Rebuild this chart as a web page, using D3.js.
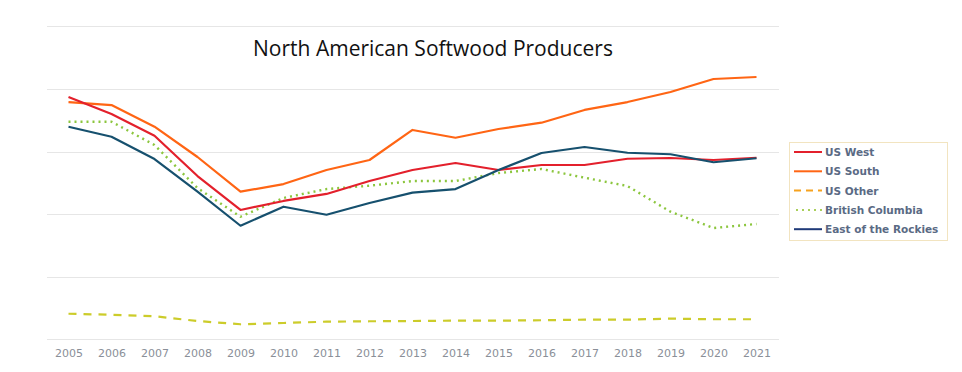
<!DOCTYPE html>
<html>
<head>
<meta charset="utf-8">
<script src="https://cdn.jsdelivr.net/npm/d3@7"></script>
<style>
  body { margin: 0; background: #fff; }
  svg { display: block; }
</style>
</head>
<body>
<div id="chart"></div>
<script>
const years = ["2005","2006","2007","2008","2009","2010","2011","2012","2013",
  "2014","2015","2016","2017","2018","2019","2020","2021"];

const usWest = [19.35, 17.99, 16.26, 13.04, 10.33, 11.05, 11.61, 12.64, 13.52,
  14.08, 13.52, 13.92, 13.92, 14.42, 14.48, 14.32, 14.50];
const usSouth = [18.95, 18.71, 16.98, 14.56, 11.79, 12.40, 13.52, 14.32, 16.72,
  16.10, 16.80, 17.30, 18.32, 18.95, 19.75, 20.79, 20.95];
const usOther = [2.04, 1.96, 1.84, 1.46, 1.20, 1.30, 1.41, 1.44, 1.46,
  1.49, 1.49, 1.52, 1.57, 1.57, 1.65, 1.60, 1.60];
const britishColumbia = [17.38, 17.38, 15.52, 12.08, 9.79, 11.29, 12.00, 12.27, 12.64,
  12.64, 13.28, 13.60, 12.91, 12.24, 10.19, 8.89, 9.21];
const eastRockies = [16.98, 16.18, 14.40, 11.79, 9.07, 10.59, 9.95, 10.89, 11.71,
  12.00, 13.52, 14.88, 15.36, 14.90, 14.78, 14.14, 14.46];

const yTicks = [0, 5, 10, 15, 20, 25];

const series = [
  { name: "US West", values: usWest, color: "#e3202c", legendColor: "#e3202c", dash: null },
  { name: "US South", values: usSouth, color: "#ff6514", legendColor: "#ff6514", dash: null },
  { name: "US Other", values: usOther, color: "#cccc2a", legendColor: "#f6a21e", dash: "8,7" },
  { name: "British Columbia", values: britishColumbia, color: "#8cc63e", legendColor: "#a9cf5a", dash: "2,4" },
  { name: "East of the Rockies", values: eastRockies, color: "#16506e", legendColor: "#1f3a78", dash: null }
];
// draw order (last on top)
const drawOrder = ["US Other", "British Columbia", "US South", "US West", "East of the Rockies"];

const width = 962, height = 372;
const svg = d3.select("#chart").append("svg")
  .attr("width", width)
  .attr("height", height);

const x = d3.scalePoint()
  .domain(years)
  .range([47, 778])
  .padding(0.5);

const y = d3.scaleLinear()
  .domain([0, 25])
  .range([339.3, 26.3]);

// gridlines
svg.append("g")
  .selectAll("line")
  .data(yTicks)
  .join("line")
  .attr("x1", 47)
  .attr("x2", 779)
  .attr("y1", d => Math.round(y(d)) + 0.5)
  .attr("y2", d => Math.round(y(d)) + 0.5)
  .attr("stroke", "#e6e6e6")
  .attr("stroke-width", 1.2);

// x axis labels
const xAxis = svg.append("g")
  .attr("transform", "translate(0,345)")
  .call(d3.axisBottom(x).tickSize(0).tickPadding(4));
xAxis.select(".domain").remove();
xAxis.selectAll("text")
  .attr("font-family", "DejaVu Sans, Verdana, sans-serif")
  .attr("font-size", 11)
  .attr("fill", "#8a8f98");

// title
svg.append("text")
  .attr("x", 433)
  .attr("y", 56)
  .attr("text-anchor", "middle")
  .attr("font-family", "Open Sans, sans-serif")
  .attr("font-size", 21)
  .attr("fill", "#111")
  .text("North American Softwood Producers");

const line = d3.line()
  .x((d, i) => x(years[i]))
  .y(d => y(d));

const byName = new Map(series.map(s => [s.name, s]));

svg.append("g")
  .selectAll("path")
  .data(drawOrder.map(n => byName.get(n)))
  .join("path")
  .attr("d", d => line(d.values))
  .attr("fill", "none")
  .attr("stroke", d => d.color)
  .attr("stroke-width", d => d.dash === "2,4" ? 2.4 : 2.2)
  .attr("stroke-dasharray", d => d.dash)
  .attr("stroke-linejoin", "round");

// legend
const legend = svg.append("g").attr("transform", "translate(789,142)");
legend.append("rect")
  .attr("x", 0.5)
  .attr("y", 0.5)
  .attr("width", 158)
  .attr("height", 98)
  .attr("fill", "#fff")
  .attr("stroke", "#f2e4c0")
  .attr("stroke-width", 1);

const item = legend.selectAll("g.item")
  .data(series)
  .join("g")
  .attr("class", "item")
  .attr("transform", (d, i) => `translate(0,${10 + i * 19.3})`);

item.append("line")
  .attr("x1", d => d.dash === "2,4" ? 7 : 5)
  .attr("x2", 33)
  .attr("y1", 0)
  .attr("y2", 0)
  .attr("stroke", d => d.legendColor)
  .attr("stroke-width", 2)
  .attr("stroke-dasharray", d => d.dash === "8,7" ? "7,5" : d.dash);

item.append("text")
  .attr("x", 36)
  .attr("y", 4)
  .attr("font-family", "DejaVu Sans, Verdana, sans-serif")
  .attr("font-weight", "bold")
  .attr("font-size", 10.5)
  .attr("fill", "#5a6a84")
  .text(d => d.name);
</script>
</body>
</html>
